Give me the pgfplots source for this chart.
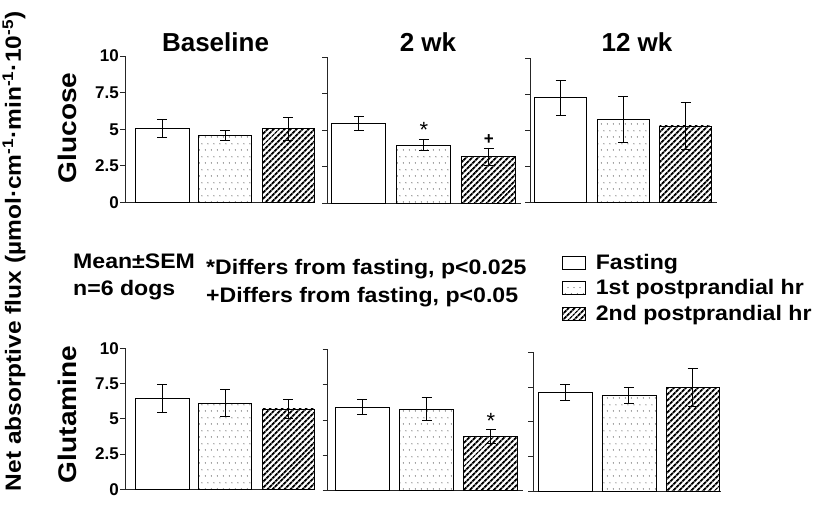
\documentclass[border=0pt]{standalone}
\usepackage{fontspec}
\setmainfont{Liberation Sans}
\newfontfamily\wfont[FakeStretch=1.1]{Liberation Sans}
\newfontfamily\ylfont[FakeStretch=1.114]{Liberation Sans}
\usepackage{pgfplots}
\pgfplotsset{compat=1.18}
\usetikzlibrary{patterns.meta}

\tikzdeclarepattern{name=sdots, type=uncolored,
  bounding box={(0pt,0pt) and (6pt,13pt)}, tile size={(6pt,13pt)},
  code={\fill (1.5pt,3.25pt) circle (0.6pt); \fill (4.5pt,9.75pt) circle (0.6pt);}}

\pgfplotsset{
  panel/.style={
    axis x line*=bottom, axis y line*=left,
    ymin=0, ymax=10, ytick={0,2.5,5,7.5,10}, xtick=\empty,
    tick align=outside, major tick length=5pt,
    axis line style={line width=0.8pt, black!85},
    every tick/.style={line width=0.8pt, black!85},
    yticklabel style={font=\fontsize{17}{17}\selectfont\bfseries, inner sep=1pt},
    clip=false, anchor=south west,
    /pgf/number format/assume math mode=true,
  },
  nolab/.style={yticklabels={,,,,,}},
  lab/.style={yticklabels={0,2.5,5,7.5,10}},
  eb/.style={error bars/y dir=both, error bars/y explicit,
    error bars/error bar style={line width=0.9pt, black},
    error bars/error mark options={rotate=90, line width=0.9pt, mark size=5pt, black}},
  fast/.style={ybar, bar shift=0pt, draw=black, fill=white, line width=0.8pt, eb},
  first/.style={ybar, bar shift=0pt, draw=black, line width=0.8pt,
    pattern=sdots, pattern color=black!85, eb},
  second/.style={ybar, bar shift=0pt, draw=black, line width=0.8pt,
    pattern={Lines[angle=45, distance=4pt, line width=2pt]}, pattern color=black, eb},
}

\begin{document}
\begin{tikzpicture}[x=1pt,y=1pt]
\useasboundingbox (0,0) rectangle (813,504);

% ---------------- Glucose, Baseline
\begin{axis}[panel, lab, at={(125pt,301.5pt)}, x=63pt, y=14.65pt, xmin=-0.59, xmax=2.41,
  legend style={at={(axis description cs:2.312,-0.352)}, anchor=north west, draw=none, fill=none,
    font=\fontsize{21}{21}\wfont\bfseries, inner sep=0pt,
    nodes={inner sep=0pt, text height=15pt, text depth=4pt},
    row sep=6.5pt, column sep=10pt, cells={anchor=west}},
  legend image code/.code={\draw[#1, line width=0.7pt] (0pt,-5.5pt) rectangle (23pt,7.5pt);}]
\addplot[fast, bar width=54pt] coordinates {(0,5.07) +- (0,0.6)};
\addplot[first, bar width=53pt] coordinates {(1,4.57) +- (0,0.32)};
\addplot[second, bar width=52pt] coordinates {(2,5.03) +- (0,0.8)};
\legend{Fasting, 1st postprandial hr, 2nd postprandial hr}
\end{axis}

% ---------------- Glucose, 2 wk
\begin{axis}[panel, nolab, at={(327pt,301pt)}, x=65pt, y=14.6pt, xmin=-0.49, xmax=2.49]
\addplot[fast, bar width=54pt] coordinates {(0,5.46) +- (0,0.5)};
\addplot[first, bar width=54pt] coordinates {(1,3.97) +- (0,0.4)};
\addplot[second, bar width=54pt] coordinates {(2,3.17) +- (0,0.6)};
\node[font=\fontsize{22}{22}\selectfont] at (axis cs:1,5.0) {*};
\node[font=\fontsize{17}{17}\selectfont\bfseries] at (axis cs:2,4.35) {+};
\end{axis}

% ---------------- Glucose, 12 wk
\begin{axis}[panel, nolab, at={(530pt,301.5pt)}, x=62.5pt, y=14.45pt, xmin=-0.49, xmax=2.5]
\addplot[fast, bar width=52pt] coordinates {(0,7.24) +- (0,1.2)};
\addplot[first, bar width=52pt] coordinates {(1,5.76) +- (0,1.6)};
\addplot[second, bar width=52pt] coordinates {(2,5.3) +- (0,1.6)};
\end{axis}

% ---------------- Glutamine, Baseline
\begin{axis}[panel, lab, at={(125pt,14.7pt)}, x=63pt, y=14.1pt, xmin=-0.59, xmax=2.41]
\addplot[fast, bar width=54pt] coordinates {(0,6.45) +- (0,1.0)};
\addplot[first, bar width=53pt] coordinates {(1,6.12) +- (0,0.95)};
\addplot[second, bar width=52pt] coordinates {(2,5.7) +- (0,0.7)};
\end{axis}

% ---------------- Glutamine, 2 wk
\begin{axis}[panel, nolab, at={(327.5pt,13.3pt)}, x=64.3pt, y=14.14pt, xmin=-0.54, xmax=2.5]
\addplot[fast, bar width=54pt] coordinates {(0,5.92) +- (0,0.5)};
\addplot[first, bar width=54pt] coordinates {(1,5.76) +- (0,0.8)};
\addplot[second, bar width=54pt] coordinates {(2,3.82) +- (0,0.5)};
\node[font=\fontsize{22}{22}\selectfont] at (axis cs:2,4.95) {*};
\end{axis}

% ---------------- Glutamine, 12 wk
\begin{axis}[panel, nolab, at={(533.3pt,13pt)}, x=63.75pt, y=13.87pt, xmin=-0.5, xmax=2.44]
\addplot[fast, bar width=54pt] coordinates {(0,7.11) +- (0,0.6)};
\addplot[first, bar width=54pt] coordinates {(1,6.9) +- (0,0.6)};
\addplot[second, bar width=53pt] coordinates {(2,7.45) +- (0,1.35)};
\end{axis}

% ---------------- texts
\node[font=\fontsize{26}{26}\selectfont\bfseries, anchor=base] at (215.5,452) {Baseline};
\node[font=\fontsize{26}{26}\selectfont\bfseries, anchor=base] at (428,452) {2 wk};
\node[font=\fontsize{26}{26}\selectfont\bfseries, anchor=base] at (637,452) {12 wk};

\node[font=\fontsize{25.5}{26}\wfont\bfseries, rotate=90] at (67,376) {Glucose};
\node[font=\fontsize{25.5}{26}\wfont\bfseries, rotate=90] at (67,89.5) {Glutamine};

\node[font=\fontsize{22}{22}\ylfont\bfseries, rotate=90] at (14,252.5) {Net absorptive flux (µmol·cm\textsuperscript{-1}·min\textsuperscript{-1}·10\textsuperscript{-5})};

\begin{scope}[every node/.style={font=\fontsize{21}{21}\wfont\bfseries, anchor=base west, inner sep=0pt}]
\node at (73,236) {Mean±SEM};
\node at (73,209) {n=6 dogs};
\node at (206,229.5) {*Differs from fasting, p<0.025};
\node at (206,202) {+Differs from fasting, p<0.05};
\end{scope}
\end{tikzpicture}
\end{document}
